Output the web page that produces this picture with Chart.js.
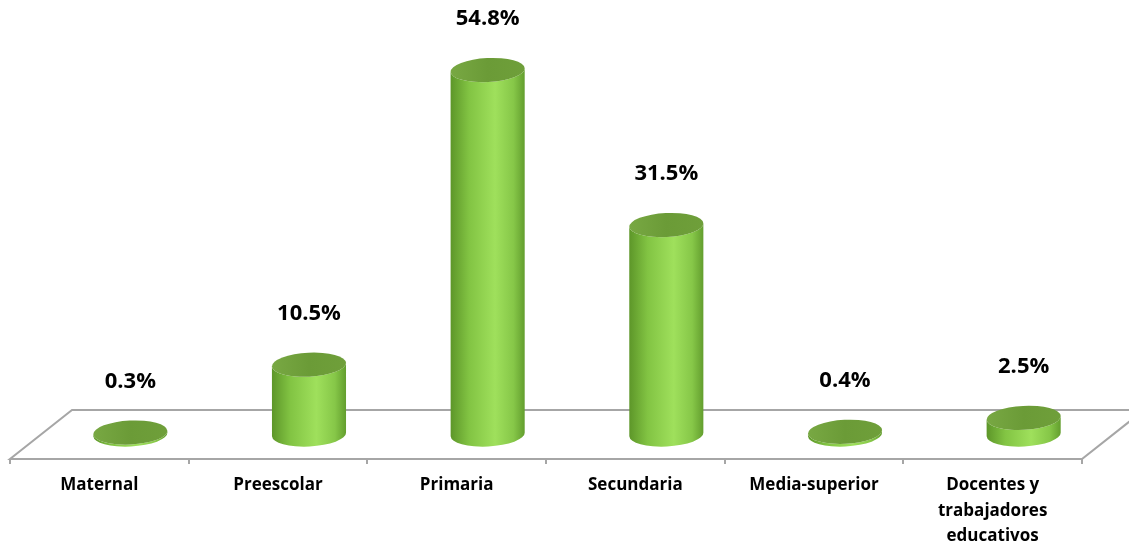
<!DOCTYPE html>
<html>
<head>
<meta charset="utf-8">
<script src="https://cdn.jsdelivr.net/npm/chart.js@4.4.1/dist/chart.umd.min.js"></script>
<style>
  html, body { margin: 0; padding: 0; background: #fff; }
  #wrap { width: 1129px; height: 545px; }
</style>
</head>
<body>
<div id="wrap"><canvas id="chart"></canvas></div>
<script>
// data
const categories = ['Maternal', 'Preescolar', 'Primaria', 'Secundaria', 'Media-superior', ['Docentes y', 'trabajadores', 'educativos']];
const values = [0.3, 10.5, 54.8, 31.5, 0.4, 2.5];
const valueLabels = ['0.3%', '10.5%', '54.8%', '31.5%', '0.4%', '2.5%'];

// 3D depth of the floor
const depthX = 62;
const depthY = 49;

// floor plane + cylinders + value labels
const cylinderPlugin = {
    id: 'cylinders',
    beforeDatasetsDraw(chart) {
        const ctx = chart.ctx;
        const area = chart.chartArea;
        const base = chart.scales.y.getPixelForValue(0);
        ctx.save();
        ctx.strokeStyle = '#a6a6a6';
        ctx.lineWidth = 2;
        ctx.beginPath();
        ctx.moveTo(area.left, base);
        ctx.lineTo(area.right, base);
        ctx.lineTo(area.right + depthX, base - depthY);
        ctx.lineTo(area.left + depthX, base - depthY);
        ctx.closePath();
        ctx.stroke();
        // ticks between categories
        ctx.beginPath();
        const step = (area.right - area.left) / categories.length;
        for (let i = 0; i <= categories.length; i++) {
            const px = Math.round(area.left + step * i);
            ctx.moveTo(px, base);
            ctx.lineTo(px, base + 5);
        }
        ctx.stroke();
        ctx.restore();
    },
    afterDatasetsDraw(chart) {
        const ctx = chart.ctx;
        const meta = chart.getDatasetMeta(0);
        const base = chart.scales.y.getPixelForValue(0);
        ctx.save();
        meta.data.forEach((bar, i) => {
            const cx = bar.x + depthX / 2;
            const rx = bar.width / 2;
            const ry = 12;
            const bottom = base - depthY / 2;
            const top = bar.y - depthY / 2;
            const rot = -0.05;

            const grad = ctx.createLinearGradient(cx - rx, 0, cx + rx, 0);
            grad.addColorStop(0, '#5d9629');
            grad.addColorStop(0.25, '#82c443');
            grad.addColorStop(0.6, '#9fe05c');
            grad.addColorStop(0.85, '#86c748');
            grad.addColorStop(1, '#639e2e');

            // body + front half of bottom ellipse
            ctx.beginPath();
            ctx.ellipse(cx, bottom, rx, ry, rot, 0, Math.PI);
            ctx.lineTo(cx - rx, top);
            ctx.ellipse(cx, top, rx, ry, rot, Math.PI, 0, true);
            ctx.closePath();
            ctx.fillStyle = grad;
            ctx.fill();

            // top face
            const topGrad = ctx.createLinearGradient(cx - rx, top, cx + rx, top);
            topGrad.addColorStop(0, '#78a843');
            topGrad.addColorStop(0.5, '#6b9b37');
            topGrad.addColorStop(1, '#6f9f3a');
            ctx.beginPath();
            ctx.ellipse(cx, top, rx, ry, rot, 0, Math.PI * 2);
            ctx.fillStyle = topGrad;
            ctx.fill();

            // value label
            ctx.fillStyle = '#000';
            ctx.font = 'bold 22px "Open Sans", sans-serif';
            ctx.textAlign = 'center';
            ctx.textBaseline = 'middle';
            ctx.fillText(valueLabels[i], cx, top - 51);
        });
        ctx.restore();
    }
};

new Chart(document.getElementById('chart'), {
    type: 'bar',
    data: {
        labels: categories,
        datasets: [{
            data: values,
            backgroundColor: 'rgba(0,0,0,0)',
            borderWidth: 0,
            barPercentage: 0.83,
            categoryPercentage: 0.5
        }]
    },
    options: {
        responsive: true,
        maintainAspectRatio: false,
        animation: false,
        layout: { padding: { left: 10, right: 47, top: 60, bottom: 0 } },
        plugins: {
            legend: { display: false },
            tooltip: { enabled: false }
        },
        scales: {
            x: {
                grid: { display: false },
                border: { display: false },
                ticks: {
                    color: '#000',
                    font: { family: '"Open Sans", sans-serif', size: 17, weight: 'bold', lineHeight: 1.48 },
                    padding: 6,
                    maxRotation: 0,
                    autoSkip: false
                },
                afterFit(scale) { scale.height = 86; }
            },
            y: {
                display: false,
                min: 0,
                max: 60
            }
        }
    },
    plugins: [cylinderPlugin]
});
</script>
</body>
</html>
